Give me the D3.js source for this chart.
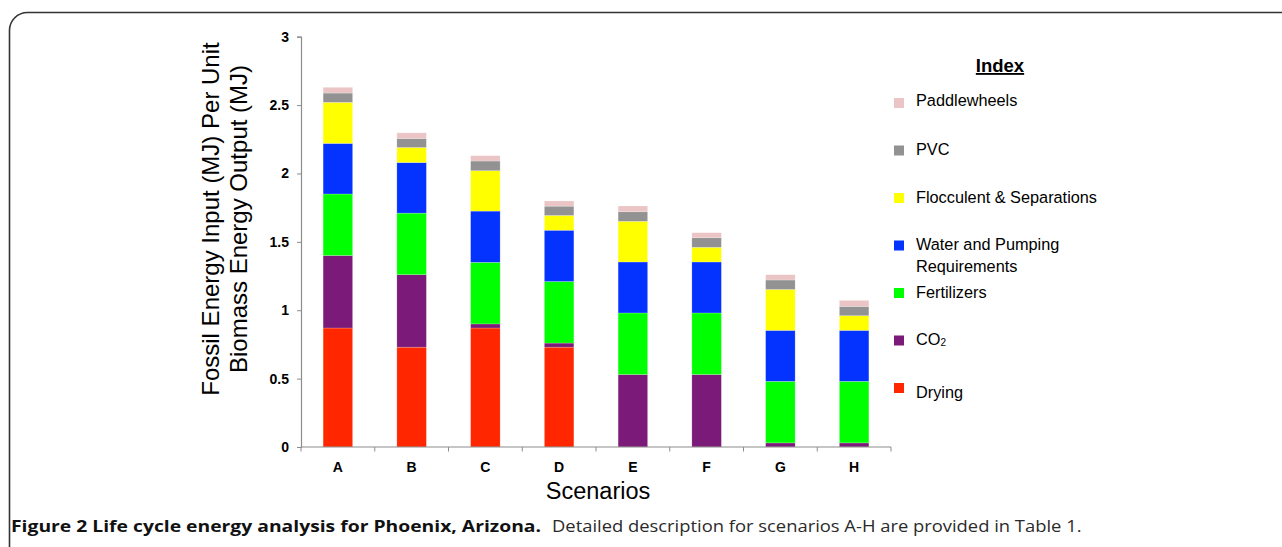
<!DOCTYPE html>
<html>
<head>
<meta charset="utf-8">
<script src="https://cdn.jsdelivr.net/npm/d3@7"></script>
<style>
  html, body { margin: 0; padding: 0; background: #fff; }
  svg { display: block; }
  text { font-family: "Liberation Sans", Arial, Helvetica, sans-serif; }
  text.caption { font-family: "Open Sans", "Noto Sans", sans-serif; }
</style>
</head>
<body>
<svg id="chart" width="1282" height="547"></svg>
<script>
// ---------- data ----------
const scenarios = ["A", "B", "C", "D", "E", "F", "G", "H"];
const seriesNames = ["Drying", "CO2", "Fertilizers", "Water and Pumping Requirements",
                     "Flocculent & Separations", "PVC", "Paddlewheels"];
const drying      = [0.87, 0.73, 0.87, 0.73, 0.00, 0.00, 0.00, 0.00];
const co2         = [0.53, 0.53, 0.03, 0.03, 0.53, 0.53, 0.03, 0.03];
const fertilizers = [0.45, 0.45, 0.45, 0.45, 0.45, 0.45, 0.45, 0.45];
const water       = [0.37, 0.37, 0.375, 0.375, 0.373, 0.373, 0.373, 0.373];
const flocculent  = [0.30, 0.11, 0.295, 0.108, 0.297, 0.107, 0.299, 0.107];
const pvc         = [0.068, 0.066, 0.071, 0.068, 0.07, 0.07, 0.069, 0.068];
const paddle      = [0.042, 0.041, 0.039, 0.038, 0.042, 0.037, 0.039, 0.044];
const yTicks = [0, 0.5, 1, 1.5, 2, 2.5, 3];
const yTickLabels = ["0", "0.5", "1", "1.5", "2", "2.5", "3"];
const colors = ["#FF2600", "#7B1A78", "#00FF00", "#0433FF", "#FFFF00", "#929292", "#EBC5C5"];

// ---------- setup ----------
const svg = d3.select("#chart");
const plotLeft = 301, plotRight = 891, plotTop = 36.7, plotBottom = 447;

const seriesValues = [drying, co2, fertilizers, water, flocculent, pvc, paddle];
const rows = scenarios.map((s, i) => {
  const r = { scenario: s };
  seriesNames.forEach((n, k) => r[n] = seriesValues[k][i]);
  return r;
});
const stacked = d3.stack().keys(seriesNames)(rows);

const x = d3.scaleBand().domain(scenarios).range([plotLeft, plotRight]).padding(0);
const y = d3.scaleLinear().domain([0, 3]).range([plotBottom, plotTop]);

// frame
svg.append("rect")
  .attr("x", 9.5).attr("y", 12.5).attr("width", 1320).attr("height", 580)
  .attr("rx", 18).attr("fill", "none").attr("stroke", "#333").attr("stroke-width", 1.6);

// bars
const barFrac = 0.40;
svg.append("g").selectAll("g").data(stacked).join("g")
  .attr("fill", (d, i) => colors[i])
  .selectAll("rect").data(d => d).join("rect")
  .attr("x", d => x(d.data.scenario) + x.bandwidth() * (1 - barFrac) / 2)
  .attr("width", x.bandwidth() * barFrac)
  .attr("y", d => y(d[1]))
  .attr("height", d => Math.max(0, y(d[0]) - y(d[1])))
  .attr("stroke", "rgba(255,255,255,0.35)")
  .attr("stroke-width", 0.6);

// y axis
const yAxis = svg.append("g").attr("transform", `translate(${plotLeft},0)`)
  .call(d3.axisLeft(y).tickValues(yTicks).tickSize(4).tickPadding(8)
        .tickFormat((d, i) => yTickLabels[i]));
yAxis.select(".domain").attr("stroke", "#8c8c8c").attr("stroke-width", 1.2);
yAxis.selectAll(".tick line").attr("stroke", "#8c8c8c");
yAxis.selectAll(".tick text").attr("font-size", 14).attr("font-weight", "bold")
  .attr("fill", "#000");

// x axis
const xg = svg.append("g");
xg.append("line").attr("x1", plotLeft).attr("x2", plotRight).attr("y1", plotBottom).attr("y2", plotBottom)
  .attr("stroke", "#8c8c8c").attr("stroke-width", 1.2);
const boundaries = scenarios.map(s => x(s)).concat([x(scenarios[scenarios.length - 1]) + x.bandwidth()]);
xg.selectAll("line.tk").data(boundaries).join("line").attr("class", "tk")
  .attr("x1", d => d).attr("x2", d => d).attr("y1", plotBottom).attr("y2", plotBottom + 4.5)
  .attr("stroke", "#8c8c8c");
xg.selectAll("text").data(scenarios).join("text")
  .attr("x", d => x(d) + x.bandwidth() / 2).attr("y", 471.5)
  .attr("text-anchor", "middle").attr("font-size", 14).attr("font-weight", "bold")
  .text(d => d);

// axis titles
svg.append("text").attr("x", (plotLeft + plotRight) / 2 + 2).attr("y", 498.5)
  .attr("text-anchor", "middle").attr("font-size", 23.5).text("Scenarios");

const yt = svg.append("text").attr("transform", "translate(0,219) rotate(-90)")
  .attr("text-anchor", "middle").attr("font-size", 24);
yt.append("tspan").attr("x", 0).attr("y", 218.5).text("Fossil Energy Input (MJ) Per Unit");
yt.append("tspan").attr("x", 0).attr("y", 247).text("Biomass Energy Output (MJ)");

// legend
const lg = svg.append("g");
lg.append("text").attr("x", 1000).attr("y", 72).attr("text-anchor", "middle")
  .attr("font-size", 18.5).attr("font-weight", "bold")
  .attr("text-decoration", "underline").text("Index");
const legendOrder = d3.range(seriesNames.length).reverse(); // Paddlewheels first
legendOrder.forEach((k, row) => {
  const cy = 103 + row * 47.5;
  lg.append("rect").attr("x", 894).attr("y", cy - 5).attr("width", 10).attr("height", 10)
    .attr("fill", colors[k]);
  const name = seriesNames[k];
  const base = cy + (name === "Drying" ? 10 : name === "Paddlewheels" ? 3 : 4.5);
  const t = lg.append("text").attr("x", 916).attr("y", base).attr("font-size", 16.3);
  if (name === "CO2") {
    t.append("tspan").text("CO");
    t.append("tspan").attr("font-size", 10).attr("dy", 0.5).text("2");
  } else if (name.startsWith("Water")) {
    t.append("tspan").attr("x", 916).text("Water and Pumping");
    t.append("tspan").attr("x", 916).attr("dy", 22).text("Requirements");
  } else {
    t.text(name);
  }
});

// caption
svg.append("text").attr("class", "caption").attr("x", 11).attr("y", 532.3)
  .attr("font-size", 15.5).attr("font-weight", "bold")
  .attr("fill", "#111").attr("textLength", 530).attr("lengthAdjust", "spacingAndGlyphs")
  .text("Figure 2 Life cycle energy analysis for Phoenix, Arizona.");
svg.append("text").attr("class", "caption").attr("x", 552).attr("y", 532.3)
  .attr("font-size", 15.5).attr("font-weight", 400)
  .attr("fill", "#2a2a2a").attr("textLength", 529.5).attr("lengthAdjust", "spacingAndGlyphs")
  .text("Detailed description for scenarios A-H are provided in Table 1.");
</script>
</body>
</html>
